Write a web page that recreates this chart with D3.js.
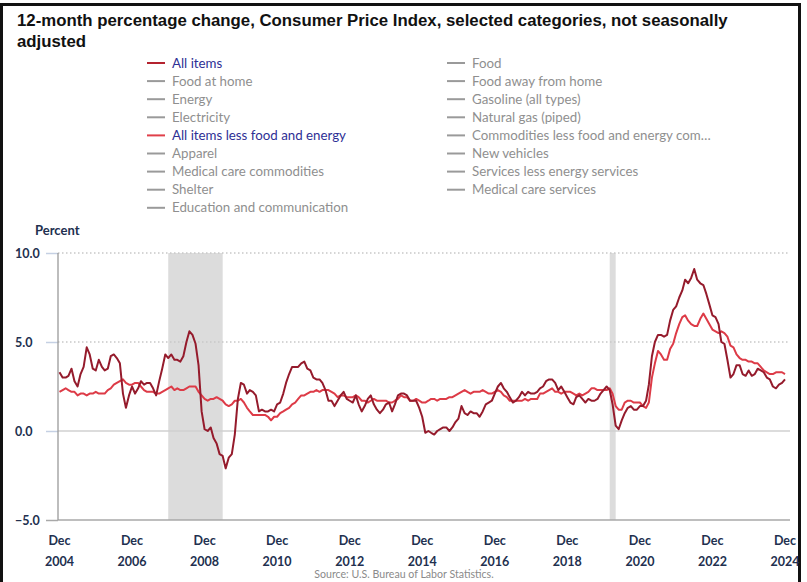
<!DOCTYPE html>
<html>
<head>
<meta charset="utf-8">
<script src="https://cdn.jsdelivr.net/npm/d3@7"></script>
<style>
  body { margin: 0; background: #fff; }
  svg { display: block; }
</style>
</head>
<body>
<div id="chart"></div>
<script>
const WIDTH = 807, HEIGHT = 582;

// monthly 12-month % change, Dec 2004 .. Dec 2024
const startMonth = new Date(2004, 11, 1);

const allItems = [
  3.3,
  3.0, 3.0, 3.1, 3.5, 2.8, 2.5, 3.2, 3.6, 4.7, 4.3, 3.5, 3.4,
  4.0, 3.6, 3.4, 3.5, 4.2, 4.3, 4.1, 3.8, 2.1, 1.3, 2.0, 2.5,
  2.1, 2.4, 2.8, 2.6, 2.7, 2.7, 2.4, 2.0, 2.8, 3.5, 4.3, 4.1,
  4.3, 4.0, 4.0, 3.9, 4.2, 5.0, 5.6, 5.4, 4.9, 3.7, 1.1, 0.1,
  0.0, 0.2, -0.4, -0.7, -1.3, -1.4, -2.1, -1.5, -1.3, -0.2, 1.8, 2.7,
  2.6, 2.1, 2.3, 2.2, 2.0, 1.1, 1.2, 1.1, 1.1, 1.2, 1.1, 1.5,
  1.6, 2.1, 2.7, 3.2, 3.6, 3.6, 3.6, 3.8, 3.9, 3.5, 3.4, 3.0,
  2.9, 2.9, 2.7, 2.3, 1.7, 1.7, 1.4, 1.7, 2.0, 2.2, 1.8, 1.7,
  1.6, 2.0, 1.5, 1.1, 1.4, 1.8, 2.0, 1.5, 1.2, 1.0, 1.2, 1.5,
  1.6, 1.1, 1.5, 2.0, 2.1, 2.1, 2.0, 1.7, 1.7, 1.7, 1.3, 0.8,
  -0.1, 0.0, -0.1, -0.2, 0.0, 0.1, 0.2, 0.2, 0.0, 0.2, 0.5, 0.7,
  1.4, 1.0, 0.9, 1.1, 1.0, 1.0, 0.8, 1.1, 1.5, 1.6, 1.7, 2.1,
  2.5, 2.7, 2.4, 2.2, 1.9, 1.6, 1.7, 1.9, 2.2, 2.0, 2.2, 2.1,
  2.1, 2.2, 2.4, 2.5, 2.8, 2.9, 2.9, 2.7, 2.3, 2.5, 2.2, 1.9,
  1.6, 1.5, 1.9, 2.0, 1.8, 1.6, 1.8, 1.7, 1.7, 1.8, 2.1, 2.3,
  2.5, 2.3, 1.5, 0.3, 0.1, 0.6, 1.0, 1.3, 1.4, 1.2, 1.2, 1.4,
  1.4, 1.7, 2.6, 4.2, 5.0, 5.4, 5.4, 5.3, 5.4, 6.2, 6.8, 7.0,
  7.5, 7.9, 8.5, 8.3, 8.6, 9.1, 8.5, 8.3, 8.2, 7.7, 7.1, 6.5,
  6.4, 6.0, 5.0, 4.9, 4.0, 3.0, 3.2, 3.7, 3.7, 3.2, 3.1, 3.4,
  3.1, 3.2, 3.5, 3.4, 3.3, 3.0, 2.9, 2.5, 2.4, 2.6, 2.7, 2.9
];

const lessFoodEnergy = [
  2.2,
  2.3, 2.4, 2.3, 2.2, 2.2, 2.0, 2.1, 2.1, 2.0, 2.1, 2.1, 2.2,
  2.1, 2.1, 2.1, 2.3, 2.4, 2.6, 2.7, 2.8, 2.9, 2.7, 2.6, 2.6,
  2.7, 2.7, 2.5, 2.3, 2.2, 2.2, 2.2, 2.1, 2.1, 2.2, 2.3, 2.4,
  2.5, 2.3, 2.4, 2.3, 2.3, 2.4, 2.5, 2.5, 2.5, 2.2, 2.0, 1.8,
  1.7, 1.8, 1.8, 1.9, 1.8, 1.7, 1.5, 1.4, 1.5, 1.7, 1.7, 1.8,
  1.6, 1.3, 1.1, 0.9, 0.9, 0.9, 0.9, 0.9, 0.8, 0.6, 0.8, 0.8,
  1.0, 1.1, 1.2, 1.3, 1.5, 1.6, 1.8, 2.0, 2.0, 2.1, 2.2, 2.2,
  2.3, 2.2, 2.3, 2.3, 2.3, 2.2, 2.1, 1.9, 2.0, 2.0, 1.9, 1.9,
  1.9, 2.0, 1.9, 1.7, 1.7, 1.6, 1.7, 1.8, 1.7, 1.7, 1.7, 1.7,
  1.6, 1.6, 1.7, 1.8, 2.0, 1.9, 1.9, 1.7, 1.7, 1.8, 1.7, 1.6,
  1.6, 1.7, 1.8, 1.8, 1.7, 1.8, 1.8, 1.8, 1.9, 1.9, 2.0, 2.1,
  2.2, 2.3, 2.2, 2.1, 2.2, 2.2, 2.2, 2.3, 2.2, 2.1, 2.1, 2.2,
  2.3, 2.2, 2.0, 1.9, 1.7, 1.7, 1.7, 1.7, 1.7, 1.8, 1.7, 1.8,
  1.8, 1.8, 2.1, 2.1, 2.2, 2.3, 2.4, 2.2, 2.2, 2.1, 2.2, 2.2,
  2.2, 2.1, 2.0, 2.1, 2.0, 2.1, 2.2, 2.4, 2.4, 2.3, 2.3, 2.3,
  2.3, 2.4, 2.1, 1.4, 1.2, 1.2, 1.6, 1.7, 1.7, 1.6, 1.6, 1.6,
  1.4, 1.3, 1.6, 3.0, 3.8, 4.5, 4.3, 4.0, 4.0, 4.6, 4.9, 5.5,
  6.0, 6.4, 6.5, 6.2, 6.0, 5.9, 5.9, 6.3, 6.6, 6.3, 6.0, 5.7,
  5.6, 5.5, 5.6, 5.5, 5.3, 4.8, 4.7, 4.3, 4.1, 4.0, 4.0, 3.9,
  3.9, 3.8, 3.8, 3.6, 3.4, 3.3, 3.2, 3.2, 3.3, 3.3, 3.3, 3.2
];

const legendLeft = ["All items", "Food at home", "Energy", "Electricity",
  "All items less food and energy", "Apparel", "Medical care commodities",
  "Shelter", "Education and communication"];
const legendRight = ["Food", "Food away from home", "Gasoline (all types)",
  "Natural gas (piped)", "Commodities less food and energy com\u2026",
  "New vehicles", "Services less energy services", "Medical care services"];

const yTicks = [10, 5, 0, -5];
const xTickYears = [2004, 2006, 2008, 2010, 2012, 2014, 2016, 2018, 2020, 2022, 2024];

// recession periods
const recessions = [
  [new Date(2007, 11, 1), new Date(2009, 5, 1)],
  [new Date(2020, 1, 1), new Date(2020, 3, 1)]
];

const colAll = "#951b2c", colCore = "#dd3b47";
const activeColors = {"All items": "#b4232f", "All items less food and energy": "#e0404a"};

const svg = d3.select("#chart").append("svg")
  .attr("width", WIDTH)
  .attr("height", HEIGHT);

svg.append("rect").attr("width", WIDTH).attr("height", HEIGHT).attr("fill", "#fff");

// frame
svg.append("path")
  .attr("d", "M1.5,582 V4.5 H799.5 V582")
  .attr("fill", "none")
  .attr("stroke", "#111")
  .attr("stroke-width", 3);

// title
let title = svg.append("text")
  .style("font-family", "Liberation Sans, Arial, sans-serif")
  .style("font-weight", "bold")
  .style("font-size", "16.8px")
  .attr("fill", "#111");
title.append("tspan").attr("x", 17).attr("y", 26)
  .text("12-month percentage change, Consumer Price Index, selected categories, not seasonally");
title.append("tspan").attr("x", 17).attr("y", 47).text("adjusted");

// legend
function drawLegend(items, x0) {
  let g = svg.append("g");
  let rows = g.selectAll("g").data(items).enter().append("g")
    .attr("transform", (d, i) => `translate(${x0},${63 + i * 18.1})`);
  rows.append("line")
    .attr("x1", 0).attr("x2", 18)
    .attr("stroke", d => activeColors[d] || "#9a9a9a")
    .attr("stroke-width", 2);
  rows.append("text")
    .attr("x", 25).attr("y", 4.5)
    .style("font-family", "Lato, sans-serif")
    .style("font-size", "13.3px")
    .attr("fill", d => activeColors[d] ? "#2e2f95" : "#8f8f8f")
    .text(d => d);
}
drawLegend(legendLeft, 147);
drawLegend(legendRight, 447);

// scales
const x = d3.scaleTime()
  .domain([new Date(2004, 11, 1), new Date(2024, 11, 1)])
  .range([59.5, 785]);
const y = d3.scaleLinear()
  .domain([-5, 10])
  .range([520, 253]);
const plotLeft = 58, plotRight = 790;

// recession shading
svg.append("g").selectAll("rect").data(recessions).enter().append("rect")
  .attr("x", d => x(d[0]))
  .attr("width", d => x(d[1]) - x(d[0]))
  .attr("y", y(10))
  .attr("height", y(-5) - y(10))
  .attr("fill", "#dcdcdc");

// gridlines
svg.append("g").selectAll("line").data(yTicks).enter().append("line")
  .attr("x1", plotLeft).attr("x2", plotRight)
  .attr("y1", d => y(d)).attr("y2", d => y(d))
  .attr("stroke", d => d > 0 ? "#c8c8c8" : (d == 0 ? "#d0d0d0" : "#a8a8a8"))
  .attr("stroke-width", d => d > 0 ? 1.3 : 1.5)
  .attr("stroke-dasharray", d => d > 0 ? "1.5,2.5" : null);

// y ticks
let yAxis = svg.append("g").attr("transform", `translate(${plotLeft},0)`)
  .call(d3.axisLeft(y).tickValues(yTicks).tickSize(12).tickPadding(5).tickFormat(d3.format(".1f")));
yAxis.select(".domain").remove();
yAxis.selectAll(".tick line").attr("stroke", d => d == -5 ? "#a8a8a8" : "#c5d0e3").attr("stroke-width", 1.5);
yAxis.selectAll(".tick text")
  .style("font-family", "Lato, sans-serif")
  .style("font-size", "12.5px")
  .style("font-weight", "bold")
  .attr("fill", "#22304f")
  .attr("x", -43).attr("text-anchor", "start");

// vertical axis line
svg.append("line")
  .attr("x1", plotLeft).attr("x2", plotLeft)
  .attr("y1", y(10)).attr("y2", y(-5))
  .attr("stroke", "#9a9a9a").attr("stroke-width", 1.3);

svg.append("text")
  .attr("x", 35).attr("y", 235)
  .style("font-family", "Lato, sans-serif")
  .style("font-size", "13px")
  .style("font-weight", "bold")
  .attr("fill", "#22304f")
  .text("Percent");

// x ticks
let xLabels = svg.append("g").selectAll("text").data(xTickYears).enter().append("text")
  .attr("text-anchor", "middle")
  .style("font-family", "Lato, sans-serif")
  .style("font-size", "12.5px")
  .style("font-weight", "bold")
  .attr("fill", "#22304f")
  .attr("transform", d => `translate(${x(new Date(d, 11, 1))},0)`);
xLabels.append("tspan").attr("x", 0).attr("y", 545).text("Dec");
xLabels.append("tspan").attr("x", 0).attr("y", 566).text(d => d);

// lines
const line = d3.line()
  .x((d, i) => x(d3.timeMonth.offset(startMonth, i)))
  .y(d => y(d));

svg.append("path").datum(lessFoodEnergy)
  .attr("d", line)
  .attr("fill", "none")
  .attr("stroke", colCore)
  .attr("stroke-width", 2)
  .attr("stroke-linejoin", "round");

svg.append("path").datum(allItems)
  .attr("d", line)
  .attr("fill", "none")
  .attr("stroke", colAll)
  .attr("stroke-width", 2)
  .attr("stroke-linejoin", "round");

svg.append("text")
  .attr("x", 404).attr("y", 578)
  .attr("text-anchor", "middle")
  .style("font-family", "Lato, sans-serif")
  .style("font-size", "10.6px")
  .attr("fill", "#8a8a8a")
  .text("Source: U.S. Bureau of Labor Statistics.");
</script>
</body>
</html>
